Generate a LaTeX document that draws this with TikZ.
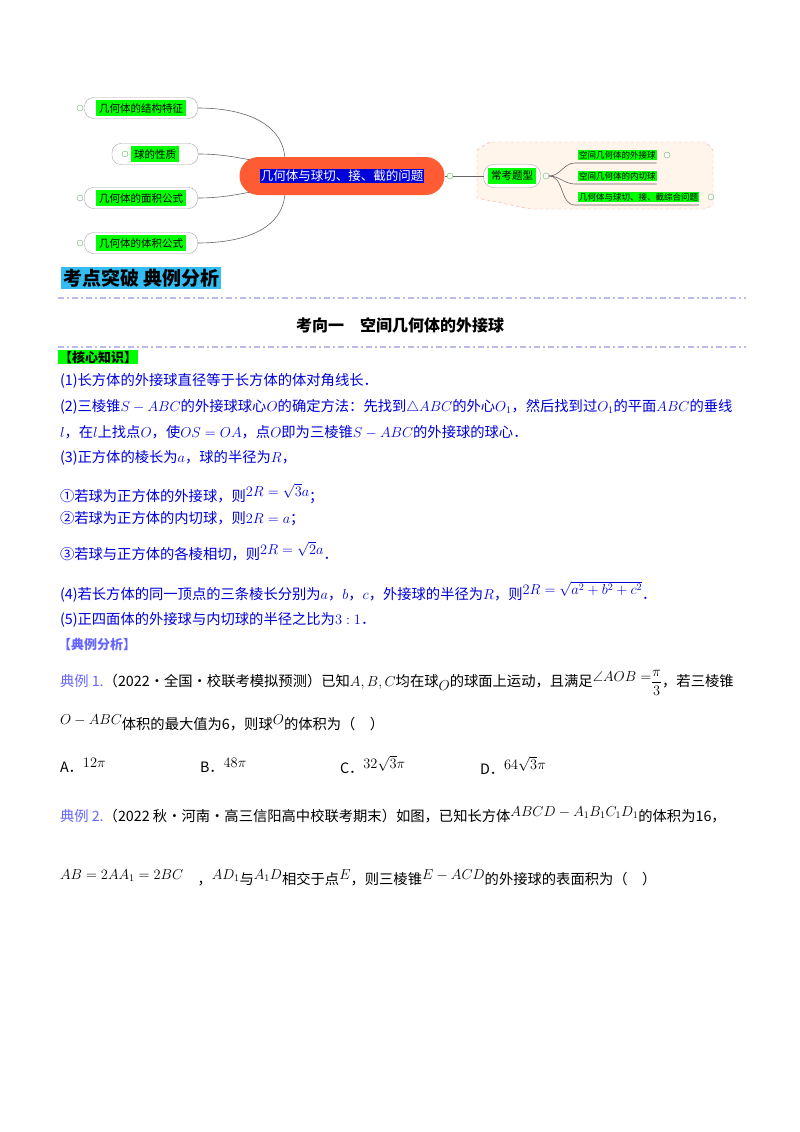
\documentclass[tikz,border=0pt]{standalone}
\usepackage{fontspec}
\usepackage{amsmath,amssymb}
\setmainfont{Noto Sans CJK SC}
\newcommand{\up}[1]{\raisebox{5pt}{$#1$}}
\begin{document}
\begin{tikzpicture}[x=1pt,y=-1pt,
 every node/.style={inner sep=0pt,outer sep=0pt},
 txt/.style={anchor=west,font=\fontsize{14.3}{16}\selectfont},
 btxt/.style={txt,text=blue!85!black},
 leaf/.style={draw=gray!70,rounded corners=9pt,minimum height=21pt,fill=white,font=\fontsize{10.5}{12}\selectfont},
 plus/.style={draw=green!50!black!60,circle,minimum size=6pt,fill=white},
 conn/.style={draw=gray!80!black,line width=0.6pt},
 dd/.style={draw=gray!45!blue!35,line width=1.3pt,dash pattern=on 6pt off 3pt on 2pt off 3pt}]
\useasboundingbox (0,0) rectangle (800,1132);
% mind map
\node[leaf,minimum width=113pt] (l1) at (141,108) {\colorbox{green}{几何体的结构特征}};
\node[leaf,minimum width=86pt] (l2) at (155,154) {\colorbox{green}{球的性质}};
\node[leaf,minimum width=113pt] (l3) at (141,198) {\colorbox{green}{几何体的面积公式}};
\node[leaf,minimum width=113pt] (l4) at (141,243) {\colorbox{green}{几何体的体积公式}};
\foreach \n/\x/\y in {p1/80/108,p2/125/154,p3/80/198,p4/80/243}
 \node[plus] (\n) at (\x,\y) {};
\fill[orange!8] (477,150) -- (490,142) -- (706,142) -- (713,150) -- (713,205) -- (705,209) -- (530,209) -- (477,198) -- cycle;
\draw[red!40,dashed] (477,150) -- (490,142) -- (706,142) -- (713,150) -- (713,205) -- (705,209) -- (530,209) -- (477,198) -- cycle;
\coordinate (ct) at (285,158);
\coordinate (cb) at (285,194);
\draw[conn] (l1.east) to[out=0,in=95] (ct);
\draw[conn] (l2.east) to[out=0,in=170] (262,162);
\draw[conn] (l3.east) to[out=0,in=190] (262,190);
\draw[conn] (l4.east) to[out=0,in=-95] (cb);
\node[fill=red!60!orange!80,rounded corners=19pt,minimum width=205pt,minimum height=38pt] (c) at (342,176) {};
\node[fill=blue!85!black,text=white,inner sep=1pt,font=\fontsize{12.5}{14}\selectfont] at (c) {几何体与球切、接、截的问题};
\node[plus] (pc) at (450,176) {};
\node[leaf,minimum width=57pt,minimum height=23pt,rounded corners=10pt] (t) at (512,176) {\colorbox{green}{常考题型}};
\draw[conn] (c.east) -- (pc) -- (t);
\node[plus] (pt) at (546,176) {};
\foreach \n/\y/\s in {a/155/空间几何体的外接球,b/176/空间几何体的内切球,d/197/几何体与球切、接、截综合问题}{
 \node[anchor=west,font=\fontsize{8.5}{10}\selectfont,fill=green,inner sep=1pt] (\n) at (578,\y) {\s};
 \draw[conn] (pt) to[out=0,in=180] (575,\y+8) -- (\n.south east|-0,\y+8);}
\node[plus] at (667,155) {};
\node[plus] at (711,197) {};
% banner
\node[anchor=west,fill=cyan!80,inner sep=2pt,font=\fontsize{19}{21}\selectfont\bfseries] (band) at (61,278) {考点突破\ 典例分析};
\draw[dd] (58,298) -- (746,298);
\node[font=\fontsize{16}{18}\selectfont\bfseries] (title) at (400,325) {考向一\quad 空间几何体的外接球};
\draw[dd] (58,347) -- (746,347);
\node[txt,fill=green,inner sep=1pt,font=\fontsize{13}{15}\selectfont\bfseries] (k) at (58,357) {【核心知识】};
\node[btxt] (k1) at (60,381) {(1)长方体的外接球直径等于长方体的体对角线长．};
\node[btxt] (k2) at (60,407) {(2)三棱锥$S-ABC$的外接球球心$O$的确定方法：先找到$\triangle ABC$的外心$O_1$，然后找到过$O_1$的平面$ABC$的垂线};
\node[btxt] (k3) at (60,432) {$l$，在$l$上找点$O$，使$OS=OA$，点$O$即为三棱锥$S-ABC$的外接球的球心．};
\node[btxt] (k4) at (60,458) {(3)正方体的棱长为$a$，球的半径为$R$，};
\node[btxt] (k5) at (60,494) {①若球为正方体的外接球，则\up{2R=\sqrt{3}a}；};
\node[btxt] (k6) at (60,519) {②若球为正方体的内切球，则$2R=a$；};
\node[btxt] (k7) at (60,551) {③若球与正方体的各棱相切，则\up{2R=\sqrt{2}a}．};
\node[btxt] (k8) at (60,592) {(4)若长方体的同一顶点的三条棱长分别为$a$，$b$，$c$，外接球的半径为$R$，则\up{2R=\sqrt{a^2+b^2+c^2}}．};
\node[btxt] (k9) at (60,620) {(5)正四面体的外接球与内切球的半径之比为$3:1$．};
\node[txt,text=blue!60,font=\fontsize{13}{15}\selectfont\bfseries] (e) at (58,645) {【典例分析】};
\node[txt] (e1) at (60,683) {\textcolor{blue!60}{典例 1.}（2022·全国·校联考模拟预测）已知$A,B,C$均在球\raisebox{-4pt}{$O$}的球面上运动，且满足\up{\angle AOB=}$\dfrac{\pi}{3}$，若三棱锥};
\node[txt] (e1b) at (60,723) {\up{O-ABC}体积的最大值为6，则球\up{O}的体积为（\quad）};
\node[txt] (oa) at (60,765) {A．\up{12\pi}};
\node[txt] (ob) at (200,765) {B．\up{48\pi}};
\node[txt] (oc) at (340,765) {C．\up{32\sqrt{3}\pi}};
\node[txt] (od) at (480,765) {D．\up{64\sqrt{3}\pi}};
\node[txt] (e2) at (60,815) {\textcolor{blue!60}{典例 2.}（2022 秋·河南·高三信阳高中校联考期末）如图，已知长方体\up{ABCD-A_1B_1C_1D_1}的体积为16，};
\node[txt] (e2b) at (60,878) {\up{AB=2AA_1=2BC}\quad ，\up{AD_1}与\up{A_1D}相交于点\up{E}，则三棱锥\up{E-ACD}的外接球的表面积为（\quad）};
\end{tikzpicture}
\end{document}
